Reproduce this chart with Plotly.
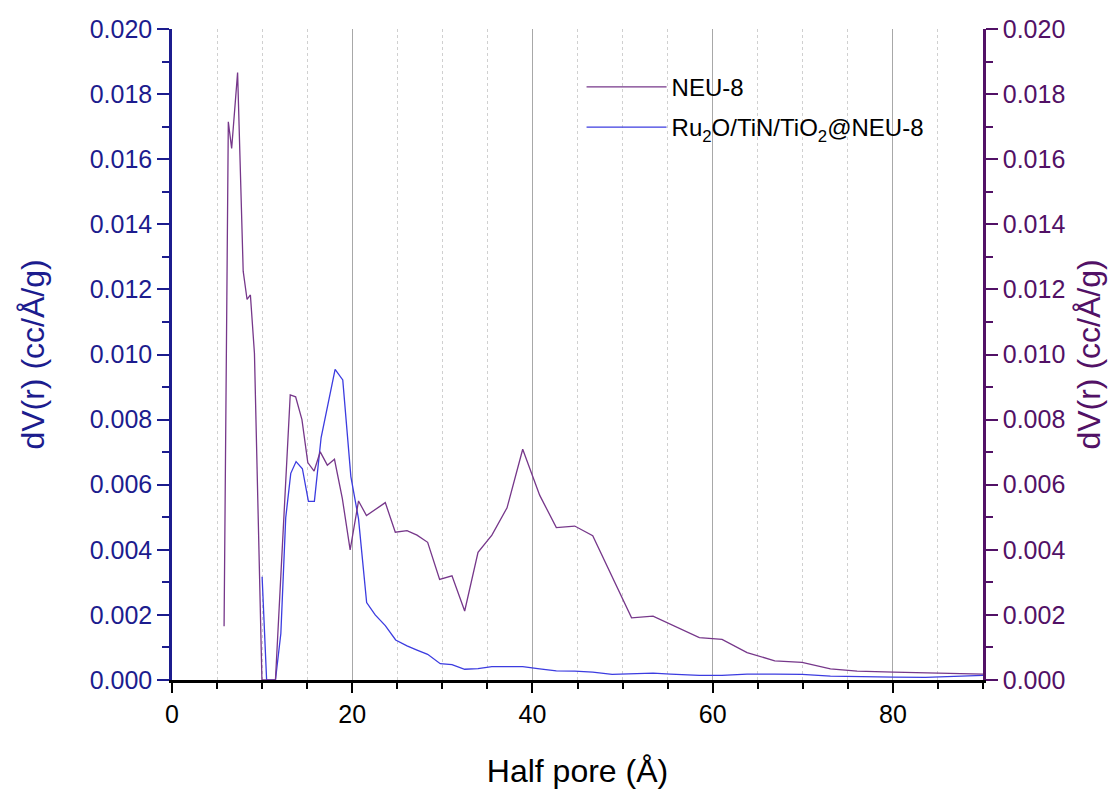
import plotly.graph_objects as go

# Pore size distribution (half pore width vs dV(r))
x_neu = [5.78, 6.25, 6.62, 7.28, 7.90, 8.33, 8.70, 9.15, 9.98, 10.50,
         11.48, 12.04, 12.59, 13.12, 13.72, 14.42, 15.07, 15.77, 16.45, 17.24,
         18.03, 18.90, 19.77, 20.70, 21.58, 23.67, 24.78, 26.08, 27.19, 28.37,
         29.70, 31.07, 32.48, 33.96, 35.50, 37.18, 38.92, 40.80, 42.65, 44.69,
         46.69, 48.84, 51.00, 53.38, 55.15, 58.52, 61.04, 63.82, 66.89, 69.92,
         73.07, 76.03, 80.10, 84.50, 90.00]
y_neu = [0.00165, 0.01715, 0.01633, 0.01866, 0.01256, 0.01169, 0.01183, 0.01003, 0.0, 0.0,
         0.0, 0.0030, 0.0060, 0.00876, 0.00870, 0.00800, 0.00668, 0.00642, 0.00701, 0.00660,
         0.00678, 0.00558, 0.00400, 0.00550, 0.00505, 0.00545, 0.00454, 0.00459, 0.00445, 0.00423,
         0.00309, 0.00320, 0.00212, 0.00392, 0.00445, 0.00529, 0.00709, 0.00568, 0.00468, 0.00473,
         0.00443, 0.00317, 0.00191, 0.00196, 0.00174, 0.00130, 0.00125, 0.00084, 0.00059, 0.00054,
         0.00034, 0.00027, 0.00024, 0.00022, 0.00018]

x_ru = [10.0, 10.5, 11.48, 12.08, 12.62, 13.18, 13.77, 14.47, 15.14, 15.80,
        16.55, 17.29, 18.10, 18.95, 19.85, 20.70, 21.60, 22.55, 23.67, 24.82,
        26.08, 27.19, 28.37, 29.77, 31.07, 32.48, 33.96, 35.50, 37.18, 38.92,
        40.80, 42.65, 44.69, 46.69, 48.84, 51.06, 53.39, 55.32, 58.52, 61.04,
        63.82, 66.89, 69.92, 73.07, 76.03, 80.10, 83.60, 90.00]
y_ru = [0.00317, 0.0, 0.0, 0.00143, 0.00498, 0.00635, 0.00671, 0.00649, 0.00549, 0.00549,
        0.00745, 0.00850, 0.00954, 0.00922, 0.00625, 0.00495, 0.00238, 0.00200, 0.00167, 0.00123,
        0.00105, 0.00092, 0.00079, 0.00050, 0.00047, 0.00033, 0.00035, 0.00041, 0.00041, 0.00041,
        0.00034, 0.00028, 0.00027, 0.00024, 0.00017, 0.00019, 0.00021, 0.00018, 0.00014, 0.00014,
        0.00018, 0.00018, 0.00017, 0.00012, 0.00010, 0.00009, 0.00008, 0.00014]

name_neu = "NEU-8"
name_ru = "Ru<sub>2</sub>O/TiN/TiO<sub>2</sub>@NEU-8"

FONT = "Liberation Sans, Arial, sans-serif"
C_NEU = "#76378a"
C_RU = "#3c3ce0"
C_LEFT = "#1c1c8e"
C_RIGHT = "#521166"
TICK_SIZE = 25
TITLE_SIZE = 32

fig = go.Figure()
fig.add_trace(go.Scatter(x=x_neu, y=y_neu, mode="lines", name=name_neu,
                         line=dict(color=C_NEU, width=1.3), yaxis="y2",
                         legendgroup="a"))
fig.add_trace(go.Scatter(x=x_ru, y=y_ru, mode="lines", name=name_ru,
                         line=dict(color=C_RU, width=1.3), yaxis="y",
                         legendgroup="b"))

fig.update_layout(
    width=1118, height=790,
    margin=dict(l=172, r=135, t=29, b=110),
    paper_bgcolor="white", plot_bgcolor="white",
    font=dict(family=FONT, size=TICK_SIZE, color="black"),
    showlegend=True,
    legend=dict(x=0.505, y=0.945, xanchor="left", yanchor="top",
                bgcolor="rgba(0,0,0,0)", font=dict(size=24, color="black"),
                itemwidth=80, tracegroupgap=6),
    xaxis=dict(
        range=[0, 90], dtick=20, tick0=0, automargin=False,
        showline=True, linecolor="black", linewidth=3,
        ticks="outside", ticklen=10, tickwidth=2, tickcolor="black",
        showgrid=True, gridcolor="#a8a8a8", gridwidth=1,
        zeroline=False,
        minor=dict(dtick=5, tick0=0, ticks="outside", ticklen=6, tickwidth=2,
                   tickcolor="black", showgrid=True, gridcolor="#d0d0d0",
                   griddash="dot", gridwidth=1),
        tickfont=dict(size=TICK_SIZE, color="black"),
        title=dict(text="Half pore (Å)", font=dict(size=TITLE_SIZE, color="black"), standoff=33),
    ),
    yaxis=dict(
        range=[0, 0.020], dtick=0.002, tick0=0, tickformat=".3f", automargin=False,
        showline=True, linecolor=C_LEFT, linewidth=2.5,
        ticks="outside", ticklen=12, tickwidth=2, tickcolor=C_LEFT,
        showgrid=False, zeroline=False,
        minor=dict(dtick=0.001, ticks="outside", ticklen=7, tickwidth=2,
                   tickcolor=C_LEFT, showgrid=False),
        tickfont=dict(size=TICK_SIZE, color=C_LEFT),
        title=dict(text="dV(r) (cc/Å/g)", font=dict(size=TITLE_SIZE, color=C_LEFT), standoff=36),
    ),
    yaxis2=dict(
        range=[0, 0.020], dtick=0.002, tick0=0, tickformat=".3f", automargin=False,
        overlaying="y", side="right", anchor="x",
        showline=True, linecolor=C_RIGHT, linewidth=2.5,
        ticks="outside", ticklen=12, tickwidth=2, tickcolor=C_RIGHT,
        showgrid=False, zeroline=False,
        minor=dict(dtick=0.001, ticks="outside", ticklen=7, tickwidth=2,
                   tickcolor=C_RIGHT, showgrid=False),
        tickfont=dict(size=TICK_SIZE, color=C_RIGHT),
        title=dict(text="dV(r) (cc/Å/g)", font=dict(size=TITLE_SIZE, color=C_RIGHT), standoff=14),
    ),
)

fig.write_html("out.html")
